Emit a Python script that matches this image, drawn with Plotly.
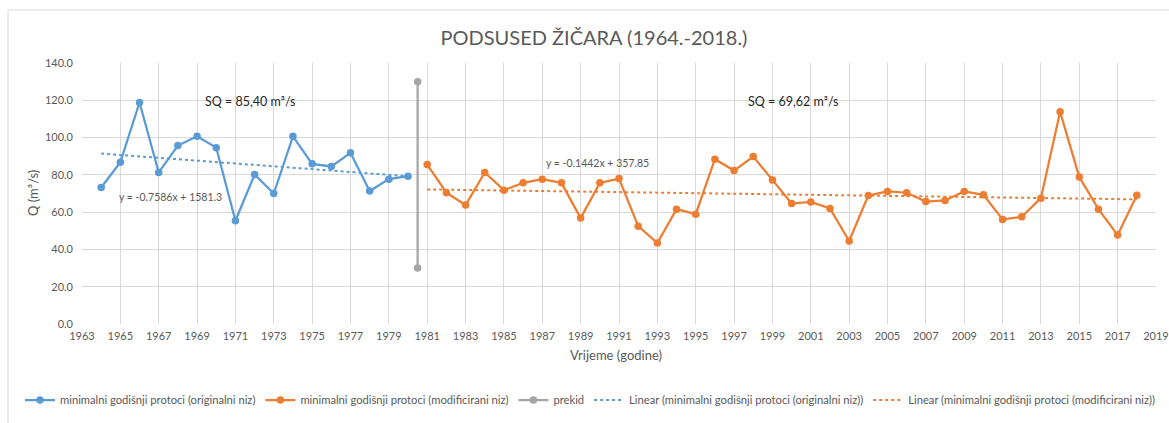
import plotly.graph_objects as go

# ---- data ----
years_orig = list(range(1964, 1981))
q_orig = [73.2, 86.8, 118.8, 81.3, 95.7, 100.7, 94.6, 55.4, 80.2, 70.0,
          100.7, 85.9, 84.5, 91.8, 71.3, 77.7, 79.3]

years_mod = list(range(1981, 2019))
q_mod = [85.5, 70.4, 63.8, 81.3, 71.8, 75.7, 77.7, 75.7, 56.8, 75.7,
         78.0, 52.5, 43.4, 61.6, 58.9, 88.4, 82.3, 89.8, 77.3, 64.6,
         65.5, 62.0, 44.5, 68.9, 71.1, 70.4, 65.7, 66.3, 71.1, 69.3,
         56.1, 57.5, 67.5, 113.8, 78.8, 61.6, 47.7, 69.1]

break_x = [1980.5, 1980.5]
break_y = [30, 130]

# Excel trend line coefficients (slope, intercept)
trend_orig = (-0.7586, 1581.3)
trend_mod = (-0.1442, 357.85)

title_text = "PODSUSED ŽIČARA (1964.-2018.)"
sq_orig_label = "SQ = 85,40 m³/s"
sq_mod_label = "SQ = 69,62 m³/s"
eq_orig_label = "y = -0.7586x + 1581.3"
eq_mod_label = "y = -0.1442x + 357.85"

names = [
    "minimalni godišnji protoci (originalni niz)",
    "minimalni godišnji protoci (modificirani niz)",
    "prekid",
    "Linear (minimalni godišnji protoci (originalni niz))",
    "Linear (minimalni godišnji protoci (modificirani niz))",
]

BLUE = "#5B9BD5"
ORANGE = "#ED7D31"
GRAY = "#A5A5A5"
TXT = "#595959"
FONT = "Lato"

def trend(xs, coef):
    return [coef[0] * x + coef[1] for x in xs]

fig = go.Figure()
fig.add_trace(go.Scatter(x=years_orig, y=q_orig, mode="lines+markers", name=names[0],
                         line=dict(color=BLUE, width=2.25), marker=dict(size=7.5, color=BLUE)))
fig.add_trace(go.Scatter(x=years_mod, y=q_mod, mode="lines+markers", name=names[1],
                         line=dict(color=ORANGE, width=2.25), marker=dict(size=7.5, color=ORANGE)))
fig.add_trace(go.Scatter(x=break_x, y=break_y, mode="lines+markers", name=names[2],
                         line=dict(color=GRAY, width=2.25), marker=dict(size=7.5, color=GRAY)))
fig.add_trace(go.Scatter(x=[years_orig[0], years_orig[-1]], y=trend([years_orig[0], years_orig[-1]], trend_orig),
                         mode="lines", name=names[3], line=dict(color=BLUE, width=2, dash="dot")))
fig.add_trace(go.Scatter(x=[years_mod[0], years_mod[-1]], y=trend([years_mod[0], years_mod[-1]], trend_mod),
                         mode="lines", name=names[4], line=dict(color=ORANGE, width=2, dash="dot")))

L, R, T, B = 82, 13, 63, 99
W, H = 1169, 423
pw, ph = W - L - R, H - T - B

def px_x(px):
    return (px - L) / pw

def px_y(py):
    return (H - B - py) / ph

fig.update_layout(
    width=W, height=H,
    margin=dict(l=L, r=R, t=T, b=B, autoexpand=False),
    paper_bgcolor="white", plot_bgcolor="white",
    font=dict(family=FONT, color=TXT, size=11),
    title=dict(text=title_text, x=594 / W, xanchor="center", xref="container",
               y=1 - 38 / H, yanchor="middle", yref="container",
               font=dict(family=FONT, size=20, color=TXT)),
    showlegend=True,
    legend=dict(orientation="h", xref="paper", yref="paper",
                x=px_x(20), xanchor="left", y=px_y(400), yanchor="middle",
                font=dict(family=FONT, size=11.2, color=TXT), itemwidth=30, bgcolor="rgba(0,0,0,0)"),
    xaxis=dict(range=[1963, 2019], tick0=1963, dtick=2, showgrid=True, gridcolor="#D9D9D9",
               gridwidth=1, zeroline=False, showline=False, ticks="",
               tickfont=dict(family=FONT, size=11, color=TXT), ticklabelstandoff=4),
    yaxis=dict(range=[0, 140], dtick=20, tickformat=".1f", showgrid=True, gridcolor="#D9D9D9",
               gridwidth=1, zeroline=False, showline=False, ticks="",
               tickfont=dict(family=FONT, size=11, color=TXT), ticklabelstandoff=8),
    annotations=[
        dict(text=sq_orig_label, x=1971.8, y=119.3, xref="x", yref="y", showarrow=False,
             xanchor="center", yanchor="middle", font=dict(family=FONT, size=12.5, color="#262626")),
        dict(text=sq_mod_label, x=2000.1, y=119.3, xref="x", yref="y", showarrow=False,
             xanchor="center", yanchor="middle", font=dict(family=FONT, size=12.5, color="#262626")),
        dict(text=eq_orig_label, x=1967.63, y=68.3, xref="x", yref="y", showarrow=False,
             xanchor="center", yanchor="middle", font=dict(family=FONT, size=10.5, color=TXT)),
        dict(text=eq_mod_label, x=1989.9, y=86.2, xref="x", yref="y", showarrow=False,
             xanchor="center", yanchor="middle", font=dict(family=FONT, size=10.5, color=TXT)),
        dict(text="Q (m³/s)", textangle=-90, x=px_x(33), y=px_y(193), xref="paper", yref="paper",
             xanchor="center", yanchor="middle", showarrow=False,
             font=dict(family=FONT, size=13, color=TXT)),
        dict(text="Vrijeme (godine)", x=px_x(616), y=px_y(355), xref="paper", yref="paper",
             xanchor="center", yanchor="middle", showarrow=False,
             font=dict(family=FONT, size=13, color=TXT)),
    ],
    shapes=[
        dict(type="rect", xref="paper", yref="paper", x0=px_x(8), x1=px_x(1180), y0=px_y(440), y1=px_y(10),
             line=dict(color="#D9D9D9", width=1), fillcolor="rgba(0,0,0,0)", layer="below"),
    ],
)

fig.write_html("out.html", config={"displayModeBar": False},
               post_script="document.body.style.margin='0';document.body.style.padding='0';"
                           "document.documentElement.style.overflow='hidden';")
